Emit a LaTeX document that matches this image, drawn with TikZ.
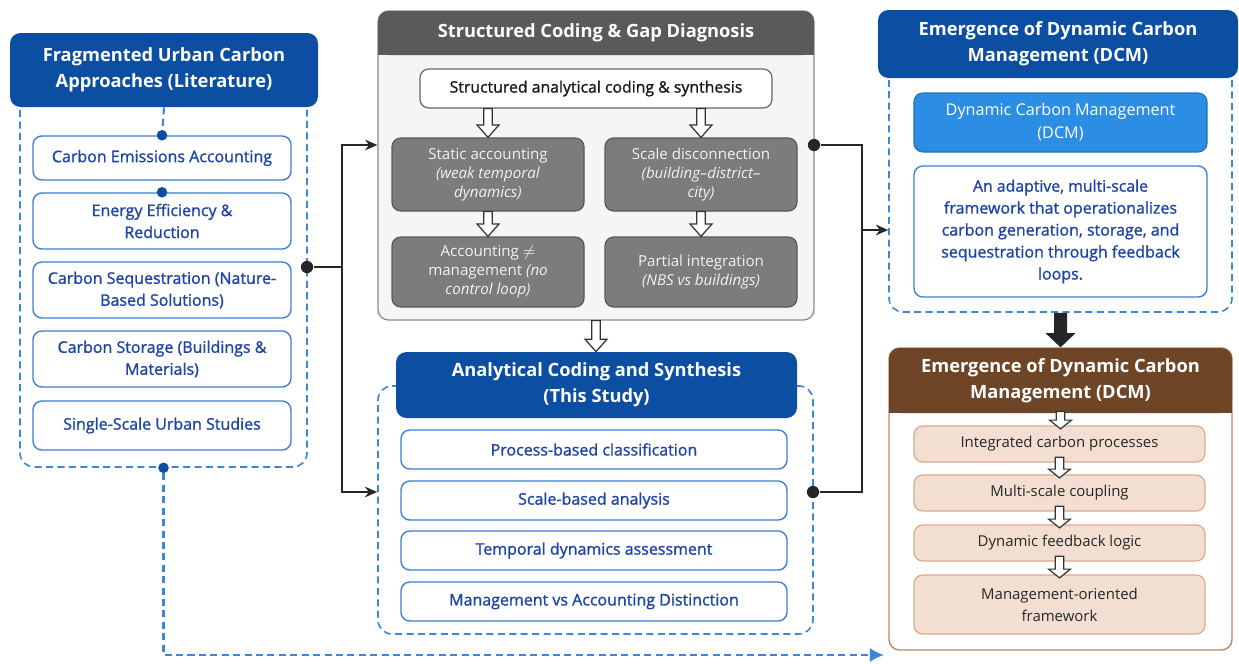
\documentclass[tikz,border=0pt]{standalone}
\usepackage{fontspec}
\setmainfont{Open Sans}
\newfontfamily\semifont{Open Sans}[FakeBold=1.2]
\usetikzlibrary{arrows.meta,fit,calc}

\definecolor{hdblue}{HTML}{0B4EA2}
\definecolor{dashblue}{HTML}{3A86DA}
\definecolor{itemline}{HTML}{3F7FD6}
\definecolor{itemtext}{HTML}{1E45A6}
\definecolor{gaphd}{HTML}{5A5A5A}
\definecolor{gapcell}{HTML}{7C7C7C}
\definecolor{gapbg}{HTML}{F5F5F5}
\definecolor{dcmblue}{HTML}{2B8DE3}
\definecolor{outhd}{HTML}{6E4527}
\definecolor{outedge}{HTML}{B9866A}
\definecolor{outcell}{HTML}{F3DFD1}
\definecolor{outcelledge}{HTML}{D9AA8E}

\newcommand{\hdfont}{\bfseries\fontsize{10.4}{14.6}\selectfont}
\newcommand{\itfont}{\semifont\fontsize{9.1}{12.5}\selectfont}
\newcommand{\cellfont}{\fontsize{8.6}{10.8}\selectfont}

% hollow block arrow pointing down, from #2 to #3
\newcommand{\hollowdown}[3][7pt]{%
  \path[draw=black!80, line width=0.7pt, fill=white] let \p1=(#2), \p2=(#3) in
    (\x1-2.4pt,\y1) -- (\x1+2.4pt,\y1) -- (\x1+2.4pt,\y2+#1) -- (\x1+6.2pt,\y2+#1)
    -- (\x1,\y2) -- (\x1-6.2pt,\y2+#1) -- (\x1-2.4pt,\y2+#1) -- cycle;}

\tikzset{
  boxlab/.style={align=center, inner sep=0pt},
  headbox/.style={fill=hdblue, rounded corners=6pt, inner sep=0pt,
    label={[boxlab, text=white, font=\hdfont]center:{#1}}},
  dashframe/.style={draw=dashblue, line width=0.9pt, dash pattern=on 4pt off 2.5pt,
    rounded corners=8pt, inner sep=0pt},
  dashline/.style={draw=dashblue, line width=1.2pt, dash pattern=on 4pt off 2.5pt},
  itembox/.style={draw=itemline, line width=0.8pt, fill=white, rounded corners=5pt,
    inner sep=0pt, label={[boxlab, text=itemtext, font=\itfont]center:{#1}}},
  gapcellbox/.style={draw=black!65, line width=0.7pt, fill=gapcell, rounded corners=5pt,
    inner sep=0pt, label={[boxlab, text=black!5, font=\cellfont]center:{#1}}},
  outcellbox/.style={draw=outcelledge, line width=0.7pt, fill=outcell, rounded corners=5pt,
    inner sep=0pt, label={[boxlab, text=black!85, font=\fontsize{8.5}{12.5}\selectfont]center:{#1}}},
  conn/.style={line width=1.2pt, black!85},
  blackdot/.style={circle, fill=black!85, inner sep=0pt, minimum size=7pt},
  bluedot/.style={circle, fill=hdblue, inner sep=0pt, minimum size=6pt},
}

\begin{document}
\begin{tikzpicture}[x=0.02cm, y=-0.02cm]
\useasboundingbox[fill=white] (0,0) rectangle (1239,663);

% Literature (left)
\node[dashframe, fit={(20,80) (307,467)}] (litframe) {};
\node[headbox={Fragmented Urban Carbon\\Approaches (Literature)}, fit={(10,33) (318,107)}] (lithead) {};
\foreach \n/\ya/\yb/\txt in {1/136/180/{Carbon Emissions Accounting},
    2/193/249/{Energy Efficiency \&\\Reduction},
    3/262/318/{Carbon Sequestration (Nature-\\Based Solutions)},
    4/331/387/{Carbon Storage (Buildings \&\\Materials)},
    5/401/450/{Single-Scale Urban Studies}}
  \node[itembox={\txt}, fit={(33,\ya) (291,\yb)}] (lit\n) {};
\draw[dashline] (lithead.south) -- (lit1.north);
\node[bluedot] at (lit1.north) {};
\node[bluedot] at (lit2.north) {};
\node[bluedot] (litbot) at (litframe.south) {};

% Gap diagnosis (middle top)
\node[draw=black!45, fill=gapbg, line width=0.7pt, rounded corners=6pt, inner sep=0pt,
  fit={(378,11) (814,320)}] (gapframe) {};
\fill[gaphd] (378,33) rectangle (814,55);
\node[headbox={Structured Coding \& Gap Diagnosis}, fill=gaphd, fit={(378,11) (814,55)}] (gaphead) {};
\node[draw=black!60, line width=0.7pt, fill=white, rounded corners=5pt, inner sep=0pt,
  label={[boxlab, font=\semifont\fontsize{9}{12}\selectfont, text=black!90]center:{Structured analytical coding \& synthesis}},
  fit={(420,69) (772,108)}] (gapsyn) {};
\node[gapcellbox={Static accounting\\\textit{(weak temporal}\\\textit{dynamics)}}, fit={(392,138) (584,211)}] (gapa) {};
\node[gapcellbox={Scale disconnection\\\textit{(building--district--}\\\textit{city)}}, fit={(605,138) (797,211)}] (gapb) {};
\node[gapcellbox={Accounting $\neq$\\management \textit{(no}\\\textit{control loop)}}, fit={(392,237) (584,307)}] (gapc) {};
\node[gapcellbox={Partial integration\\\textit{(NBS vs buildings)}}, fit={(605,237) (797,307)}] (gapd) {};
\hollowdown{gapa.north |- gapsyn.south}{gapa.north}
\hollowdown{gapb.north |- gapsyn.south}{gapb.north}
\hollowdown{gapa.south}{gapc.north}
\hollowdown{gapb.south}{gapd.north}

% This study (middle bottom)
\node[dashframe, fit={(378,386) (813,634)}] (stdframe) {};
\node[headbox={Analytical Coding and Synthesis\\(This Study)}, fit={(396,352) (797,418)}] (stdhead) {};
\foreach \n/\ya/\yb/\txt in {1/430/469/{Process-based classification},
    2/481/520/{Scale-based analysis},
    3/531/570/{Temporal dynamics assessment},
    4/582/621/{Management vs Accounting Distinction}}
  \node[itembox={\txt}, fit={(401,\ya) (787,\yb)}] (std\n) {};
\hollowdown{gapframe.south}{stdhead.north}

% DCM definition (right top)
\node[dashframe, fit={(889,60) (1232,312)}] (dcmframe) {};
\node[headbox={Emergence of Dynamic Carbon\\Management (DCM)}, fit={(878,10) (1238,78)}] (dcmhead) {};
\node[fill=dcmblue, draw=dcmblue!80!black, line width=0.6pt, rounded corners=5pt, inner sep=0pt,
  label={[boxlab, text=white, font=\fontsize{9.2}{13}\selectfont]center:{Dynamic Carbon Management\\(DCM)}},
  fit={(914,93) (1207,152)}] (dcmname) {};
\node[itembox={\semifont\fontsize{9}{12.9}\selectfont An adaptive, multi-scale\\framework that operationalizes\\carbon generation, storage, and\\sequestration through feedback\\loops.},
  fit={(914,166) (1207,297)}] (dcmdef) {};

% DCM outcome (right bottom)
\node[draw=outedge, line width=0.8pt, fill=white, rounded corners=6pt, inner sep=0pt,
  fit={(889,348) (1232,650)}] (outframe) {};
\fill[outhd] (889,380) rectangle (1232,413);
\node[headbox={Emergence of Dynamic Carbon\\Management (DCM)}, fill=outhd, fit={(889,348) (1232,413)}] (outhead) {};
\foreach \n/\ya/\yb/\txt in {1/426/462/{Integrated carbon processes},
    2/475/511/{Multi-scale coupling},
    3/525/561/{Dynamic feedback logic},
    4/575/634/{Management-oriented\\framework}}
  \node[outcellbox={\txt}, fit={(914,\ya) (1205,\yb)}] (out\n) {};
\hollowdown[5pt]{[yshift=1pt]outhead.south}{[yshift=-2pt]out1.north}
\hollowdown[5pt]{[yshift=3pt]out1.south}{[yshift=-2pt]out2.north}
\hollowdown[5pt]{[yshift=3pt]out2.south}{[yshift=-2pt]out3.north}
\hollowdown[5pt]{[yshift=3pt]out3.south}{[yshift=-2pt]out4.north}

% thick arrow between right panels
\path[fill=black!85] let \p1=(dcmframe.south), \p2=(outframe.north) in
  (\x1-3.7pt,\y1) -- (\x1+3.7pt,\y1) -- (\x1+3.7pt,\y2+8pt) -- (\x1+8.5pt,\y2+8pt)
  -- (\x1,\y2) -- (\x1-8.5pt,\y2+8pt) -- (\x1-3.7pt,\y2+8pt) -- cycle;

% connectors
\node[blackdot] (litjoin) at (307,267) {};
\node[blackdot] (gapdot) at (814,145) {};
\node[blackdot] (stddot) at (813,492) {};
\coordinate (lsplit) at (342,267);
\coordinate (rbus) at (862,230);
\draw[conn] (litjoin) -- (lsplit);
\draw[conn, -{Stealth[length=7pt,width=6pt]}] (lsplit) |- (gapframe.west |- gapdot);
\draw[conn, -{Stealth[length=7pt,width=6pt]}] (lsplit) |- (stdframe.west |- stddot);
\draw[conn] (gapdot) -| (rbus);
\draw[conn] (stddot) -| (rbus);
\draw[conn, -{Stealth[length=7pt,width=6pt]}] (rbus) -- (dcmframe.west |- rbus);

\coordinate (bend) at (884,655);
\draw[dashline, -{Latex[length=8pt,width=8pt]}] (litbot) |- (bend);
\end{tikzpicture}
\end{document}
